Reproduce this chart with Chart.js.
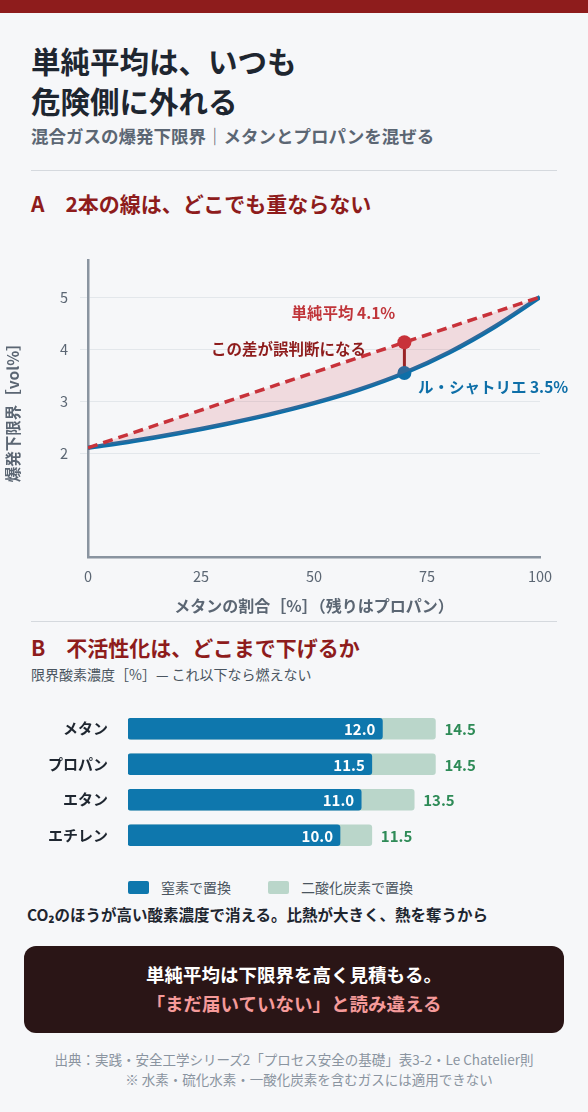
<!DOCTYPE html>
<html><head><meta charset="utf-8">
<script src="https://cdn.jsdelivr.net/npm/chart.js@4"></script>
<style>
body{margin:0;width:588px;height:1112px;background:#f6f7f9;font-family:"Noto Sans CJK JP","Noto Sans",sans-serif;position:relative;overflow:hidden}
.bar{position:absolute;left:0;top:0;width:588px;height:13px;background:#8e1c1c}
.t{position:absolute;left:31px;color:#1e2630;white-space:nowrap}
h1{position:absolute;left:31px;top:40px;margin:0;font-size:29.5px;line-height:40px;font-weight:700;color:#1e2630}
.sub{top:123px;font-size:17.5px;color:#5b6673;font-weight:700}
.hr{position:absolute;left:31px;width:526px;height:1px;background:#d5d9de}
.sec{font-size:21px;font-weight:700;color:#8e1c1c}
#c1w{position:absolute;left:0;top:240px;width:588px;height:380px}
#c2w{position:absolute;left:0;top:690px;width:588px;height:184px}
.lg{position:absolute;top:877px;font-size:14px;color:#4a5560;display:flex;align-items:center}
.lg i{display:inline-block;width:21px;height:13px;border-radius:2px;margin-right:12px}
.box{position:absolute;left:24px;top:946px;width:540px;height:87px;background:#2a1516;border-radius:12px;color:#fff;text-align:center;font-weight:700;font-size:18.5px;line-height:29px;padding-top:14px;box-sizing:border-box}
.src{position:absolute;left:0;width:588px;text-align:center;font-size:13.5px;color:#8a94a0}
</style></head><body>
<div class="bar"></div>
<h1>単純平均は、いつも<br>危険側に外れる</h1>
<div class="t sub">混合ガスの爆発下限界｜メタンとプロパンを混ぜる</div>
<div class="hr" style="top:170px"></div>
<div class="t sec" style="top:188px">A　2本の線は、どこでも重ならない</div>
<div id="c1w"><canvas id="c1"></canvas></div>
<div class="hr" style="top:621px"></div>
<div class="t sec" style="top:632px">B　不活性化は、どこまで下げるか</div>
<div class="t" style="top:664px;font-size:14px;color:#4a5560">限界酸素濃度［%］— これ以下なら燃えない</div>
<div id="c2w"><canvas id="c2"></canvas></div>
<div class="lg" style="left:128px"><i style="background:#0e77ad"></i>窒素で置換</div>
<div class="lg" style="left:268px"><i style="background:#bad6ca"></i>二酸化炭素で置換</div>
<div class="t" style="top:903px;font-size:15.5px;font-weight:700;left:27px">CO₂のほうが高い酸素濃度で消える。比熱が大きく、熱を奪うから</div>
<div class="box">単純平均は下限界を高く見積もる。<br><span style="color:#f59a9a">「まだ届いていない」と読み違える</span></div>
<div class="src" style="top:1049px">出典：実践・安全工学シリーズ2「プロセス安全の基礎」表3-2・Le Chatelier則</div>
<div class="src" style="top:1069px;padding-left:30px;box-sizing:border-box">※ 水素・硫化水素・一酸化炭素を含むガスには適用できない</div>
<script>
const methanePct=[0,10,20,30,40,50,60,70,80,90,100];
const simpleAvg=[2.1,2.39,2.68,2.97,3.26,3.55,3.84,4.13,4.42,4.71,5.0];
const leChatelier=[2.1,2.23,2.38,2.55,2.74,2.96,3.22,3.54,3.94,4.43,5.0];
const yTicks=[2,3,4,5];
const markX=70, markAvg=4.13, markLC=3.54;
const gases=["メタン","プロパン","エタン","エチレン"];
const n2=[12.0,11.5,11.0,10.0];
const co2=[14.5,14.5,13.5,11.5];
const F='"Noto Sans CJK JP","Noto Sans",sans-serif';
Chart.defaults.font.family=F;
const pts=a=>methanePct.map((x,i)=>({x,y:a[i]}));
const labels1={id:'l1',afterDatasetsDraw(c){const g=c.ctx,xs=c.scales.x,ys=c.scales.y;g.save();g.font='700 15.5px '+F;
g.fillStyle='#c0353a';g.textAlign='center';g.fillText('単純平均 4.1%',xs.getPixelForValue(56.5),ys.getPixelForValue(4.7)+6);
g.fillStyle='#8e1c1c';g.textAlign='right';g.fillText('この差が誤判断になる',xs.getPixelForValue(61.5),ys.getPixelForValue(4)+6);
g.fillStyle='#0e6fa8';g.textAlign='left';g.fillText('ル・シャトリエ 3.5%',xs.getPixelForValue(73),ys.getPixelForValue(3.27)+6);g.restore();}};
new Chart(c1,{type:'line',data:{datasets:[
{data:pts(simpleAvg),borderColor:'#c8323a',borderWidth:3.5,borderDash:[10,6],fill:'+1',backgroundColor:'rgba(214,80,90,0.17)',pointRadius:methanePct.map(x=>x===markX?7:0),pointBackgroundColor:'#c8323a',pointBorderWidth:0},
{data:pts(leChatelier),borderColor:'#0e6fa8',borderWidth:4.5,tension:0.4,cubicInterpolationMode:'monotone',pointRadius:methanePct.map(x=>x===markX?7:0),pointBackgroundColor:'#0e6fa8',pointBorderWidth:0,fill:false},
{data:[{x:markX,y:markLC},{x:markX,y:markAvg}],borderColor:'#8e1c1c',borderWidth:3,pointRadius:0,fill:false}
]},options:{animation:false,responsive:true,maintainAspectRatio:false,layout:{padding:{top:18,right:48}},
plugins:{legend:{display:false},tooltip:{enabled:false}},
scales:{x:{type:'linear',min:0,max:100,afterBuildTicks:s=>{s.ticks=[0,25,50,75,100].map(v=>({value:v}))},afterFit:s=>{s.height=63},
grid:{display:false},border:{color:'#8a94a0',width:2.5},ticks:{color:'#5b6673',font:{size:14.5}},title:{display:true,text:'メタンの割合［%］（残りはプロパン）',color:'#5b6673',font:{size:16,weight:'700'},padding:{top:2}}},
y:{min:0,max:5.7,afterBuildTicks:s=>{s.ticks=yTicks.map(v=>({value:v}))},afterFit:s=>{s.width=88},
grid:{color:'#e3e7eb'},border:{color:'#8a94a0',width:2.5},ticks:{color:'#5b6673',font:{size:14.5},padding:12},title:{display:true,text:'爆発下限界［vol%］',color:'#5b6673',font:{size:15.5,weight:'700'}}}}},plugins:[labels1]});
const labels2={id:'l2',afterDatasetsDraw(c){const g=c.ctx,xs=c.scales.x,ys=c.scales.y;g.save();g.font='700 15px '+F;g.textBaseline='middle';
gases.forEach((n,i)=>{const y=ys.getPixelForValue(i);g.fillStyle='#fff';g.textAlign='right';g.fillText(n2[i].toFixed(1),xs.getPixelForValue(n2[i])-7,y+1);
g.fillStyle='#2e8b57';g.textAlign='left';g.fillText(co2[i].toFixed(1),xs.getPixelForValue(co2[i])+9,y+1);});g.restore();}};
new Chart(c2,{type:'bar',data:{labels:gases,datasets:[
{data:n2,backgroundColor:'#0e77ad',barThickness:21,borderRadius:3,borderSkipped:false,order:0,grouped:false},
{data:co2,backgroundColor:'#bad6ca',barThickness:21,borderRadius:3,borderSkipped:false,order:1,grouped:false}]},
options:{indexAxis:'y',animation:false,responsive:true,maintainAspectRatio:false,layout:{padding:{top:4,bottom:0,right:36}},
plugins:{legend:{display:false},tooltip:{enabled:false}},
scales:{x:{display:false,min:0,max:20},y:{afterFit:s=>{s.width=128},grid:{display:false},border:{display:false},ticks:{color:'#1e2630',font:{size:15,weight:'700'},padding:12}}}},plugins:[labels2]});
</script></body></html>
